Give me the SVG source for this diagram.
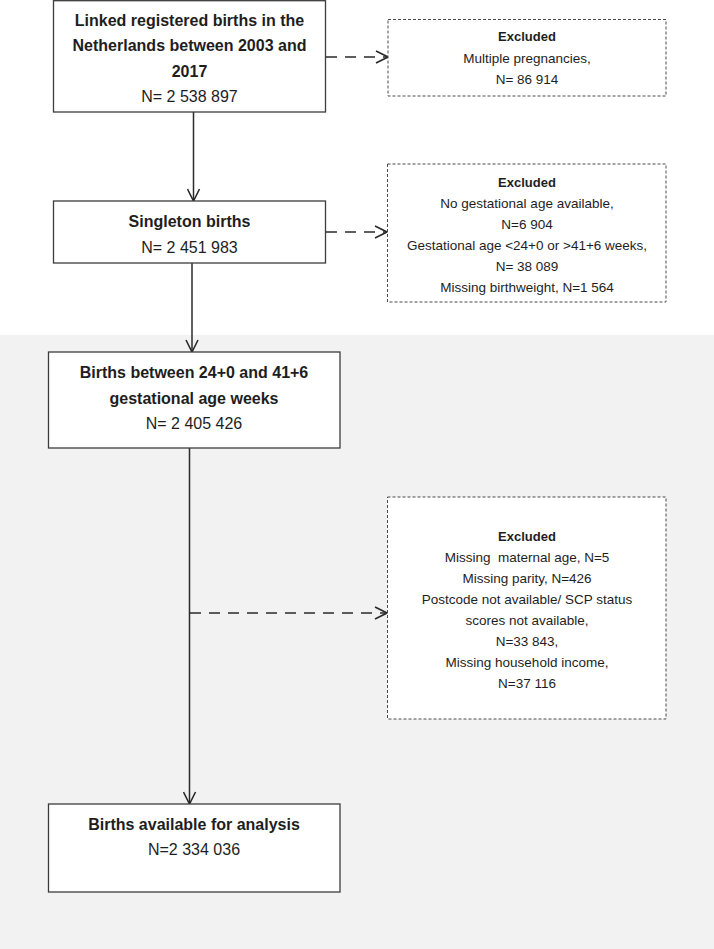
<svg xmlns="http://www.w3.org/2000/svg" width="714" height="949" viewBox="0 0 714 949">
<style>
.bg{fill:#f2f2f2}
.box{fill:#ffffff;stroke:#3c3c3c;stroke-width:1.3}
.ex{fill:#ffffff;stroke:#4a4a4a;stroke-width:1;stroke-dasharray:3,2}
.t{font-family:"Liberation Sans",Arial,sans-serif;font-size:16px;fill:#1e1e1e;text-anchor:middle}
.b{font-weight:bold}
.s{font-family:"Liberation Sans",Arial,sans-serif;font-size:13.5px;fill:#1e1e1e;text-anchor:middle;white-space:pre}
.sb{font-weight:bold;font-size:13px}
.ln{fill:none;stroke:#2a2a2a;stroke-width:1.5}
.dl{fill:none;stroke:#2a2a2a;stroke-width:1.6;stroke-dasharray:11,8}
</style>
<defs>
<marker id="arr" markerUnits="userSpaceOnUse" markerWidth="14" markerHeight="14" refX="12" refY="6" orient="auto" viewBox="-1 -1 14 14">
<path d="M0,0 L12,6 L0,12" fill="none" stroke="#2a2a2a" stroke-width="1.6"/>
</marker>
</defs>
<rect class="bg" x="0" y="335" width="714" height="614"/>
<g id="connectors">
<line class="ln" x1="193.5" y1="112" x2="193.5" y2="201" marker-end="url(#arr)"/>
<line class="ln" x1="192" y1="263" x2="192" y2="352" marker-end="url(#arr)"/>
<line class="ln" x1="189.5" y1="448" x2="189.5" y2="804" marker-end="url(#arr)"/>
<line class="dl" x1="326" y1="57" x2="388" y2="57" marker-end="url(#arr)"/>
<line class="dl" x1="326" y1="232" x2="387" y2="232" marker-end="url(#arr)"/>
<line class="dl" x1="190" y1="613" x2="387" y2="613" marker-end="url(#arr)"/>
</g>
<g id="n1">
<rect class="box" x="53.5" y="0.7" width="272" height="111.3"/>
<text class="t b" x="189.5" y="25.5">Linked registered births in the</text>
<text class="t b" x="189.5" y="51">Netherlands between 2003 and</text>
<text class="t b" x="189.5" y="76.5">2017</text>
<text class="t" x="189.5" y="102">N= 2 538 897</text>
</g>
<g id="e1">
<rect class="ex" x="388" y="19.5" width="278" height="76.5"/>
<text class="s sb" x="527" y="41">Excluded</text>
<text class="s" x="527" y="62.5">Multiple pregnancies,</text>
<text class="s" x="527" y="83.5">N= 86 914</text>
</g>
<g id="n2">
<rect class="box" x="53.5" y="201" width="272" height="62"/>
<text class="t b" x="189.5" y="226.5">Singleton births</text>
<text class="t" x="189.5" y="252.5">N= 2 451 983</text>
</g>
<g id="e2">
<rect class="ex" x="387.5" y="164" width="278.5" height="138"/>
<text class="s sb" x="527" y="187">Excluded</text>
<text class="s" x="527" y="208">No gestational age available,</text>
<text class="s" x="527" y="229">N=6 904</text>
<text class="s" x="527" y="250">Gestational age &lt;24+0 or &gt;41+6 weeks,</text>
<text class="s" x="527" y="271">N= 38 089</text>
<text class="s" x="527" y="292">Missing birthweight, N=1 564</text>
</g>
<g id="n3">
<rect class="box" x="48.5" y="352" width="291.5" height="96"/>
<text class="t b" x="194" y="377.5">Births between 24+0 and 41+6</text>
<text class="t b" x="194" y="403.5">gestational age weeks</text>
<text class="t" x="194" y="428.5">N= 2 405 426</text>
</g>
<g id="e3">
<rect class="ex" x="387.5" y="497" width="278.5" height="222"/>
<text class="s sb" x="527" y="541">Excluded</text>
<text class="s" x="527" y="562">Missing  maternal age, N=5</text>
<text class="s" x="527" y="583">Missing parity, N=426</text>
<text class="s" x="527" y="604">Postcode not available/ SCP status</text>
<text class="s" x="527" y="625">scores not available,</text>
<text class="s" x="527" y="646">N=33 843,</text>
<text class="s" x="527" y="667">Missing household income,</text>
<text class="s" x="527" y="688">N=37 116</text>
</g>
<g id="n4">
<rect class="box" x="48.5" y="804" width="291.5" height="88"/>
<text class="t b" x="194" y="829.5">Births available for analysis</text>
<text class="t" x="194" y="854.5">N=2 334 036</text>
</g>
</svg>
